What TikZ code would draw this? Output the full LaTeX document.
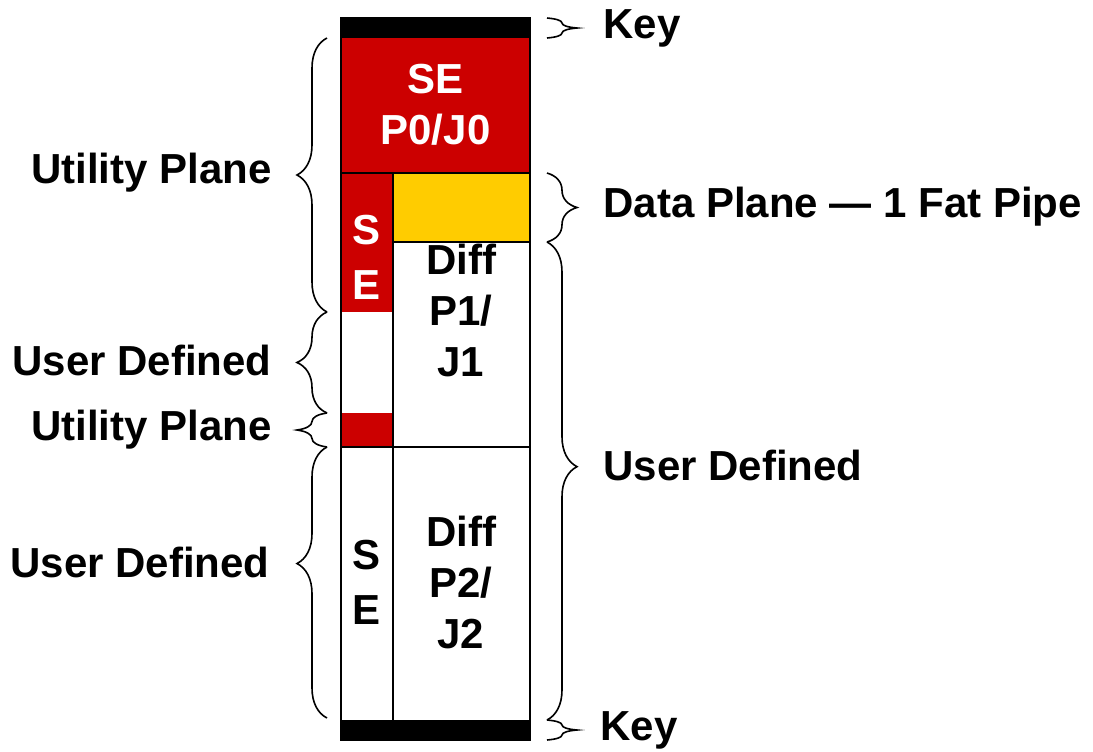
\documentclass[tikz,border=0pt]{standalone}
\usepackage{fontspec}
\setmainfont{Liberation Sans}
\usetikzlibrary{positioning,calc,decorations.pathreplacing}
\definecolor{sered}{HTML}{CC0000}
\definecolor{pipeyellow}{HTML}{FFCC00}
\tikzset{
  lbl/.style={font=\fontsize{21}{25.5}\selectfont\bfseries, align=center, inner sep=0pt},
  bracel/.style={decorate, decoration={brace, amplitude=15pt}, line width=0.8pt},
  bracer/.style={decorate, decoration={brace, amplitude=15pt}, line width=0.8pt},
}

\begin{document}
\begin{tikzpicture}[x=0.5pt, y=-0.5pt]
    \useasboundingbox (0,0) rectangle (1093,751);

    % coloured blocks
    \fill[black] (341,18) rectangle (530,38);
    \fill[sered] (341,38) rectangle (530,173);
    \fill[sered] (341,173) rectangle (393,312);
    \fill[sered] (341,413) rectangle (393,447);
    \fill[pipeyellow] (393,173) rectangle (530,242);
    \fill[black] (341,720) rectangle (530,740);

    % outlines
    \draw[-, line width=1.2pt] (341,18) rectangle (530,740);
    \draw[-, line width=1.2pt] (341,173)--(530,173);
    \draw[-, line width=1.2pt] (393,173)--(393,720);
    \draw[-, line width=1.2pt] (393,242)--(530,242);
    \draw[-, line width=1.2pt] (341,447)--(530,447);

    % block texts
    \node[lbl, text=white] (se0) at (435.5,105) {SE\\P0/J0};
    \node[lbl, text=white, font=\fontsize{21}{27.5}\selectfont\bfseries] (se1) at (367,257) {S\\E};
    \node[lbl] (diff1) at (461,310) {Diff\\P1/\\J1};
    \node[lbl, font=\fontsize{21}{27.5}\selectfont\bfseries] (se2) at (367,582) {S\\E};
    \node[lbl] (diff2) at (461,582) {Diff\\P2/\\J2};

    % brace ends
    \coordinate (l0) at (327,38);
    \coordinate (l1) at (327,312);
    \coordinate (l2) at (327,413);
    \coordinate (l3) at (327,447);
    \coordinate (l4) at (327,718);
    \coordinate (r0) at (547,18);
    \coordinate (r1) at (547,38);
    \coordinate (r2) at (547,173);
    \coordinate (r3) at (547,242);
    \coordinate (r4) at (547,720);
    \coordinate (r5) at (547,740);

    % left braces
    \draw[bracel] (l1) -- (l0);
    \draw[bracel] (l2) -- (l1);
    \draw[bracel] (l3) -- (l2);
    \draw[bracel, decoration={aspect=0.57}] (l4) -- (l3);

    % right braces
    \draw[bracer] (r0) -- (r1);
    \draw[bracer] (r2) -- (r3);
    \draw[bracer, decoration={aspect=0.47}] (r3) -- (r4);
    \draw[bracer] (r4) -- (r5);

    % side labels
    \node[lbl, anchor=east] (util1) at (272,173) {Utility Plane};
    \node[lbl, anchor=east] (user1) at (272,360) {User Defined};
    \node[lbl, anchor=east] (util2) at (272,430) {Utility Plane};
    \node[lbl, anchor=east] (user2) at (270,562) {User Defined};

    \node[lbl, anchor=west] (key1) at (603,28) {Key};
    \node[lbl, anchor=west] (data) at (603,207) {Data Plane — 1 Fat Pipe};
    \node[lbl, anchor=west] (user3) at (603,465) {User Defined};
    \node[lbl, anchor=west] (key2) at (600,730) {Key};

\end{tikzpicture}
\end{document}
